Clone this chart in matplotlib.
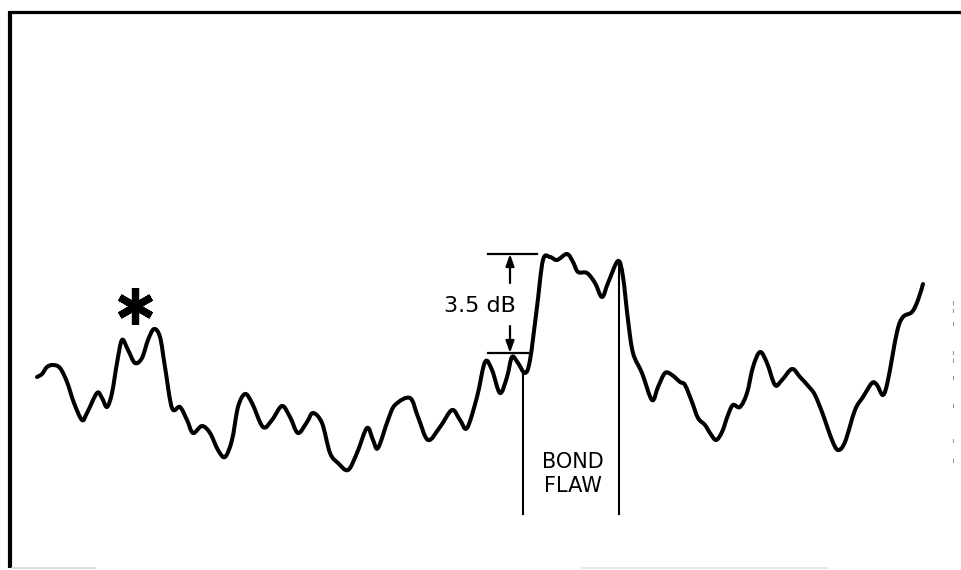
import numpy as np
import matplotlib.pyplot as plt
from matplotlib.path import Path
from matplotlib.patches import PathPatch
from matplotlib.markers import MarkerStyle

# Scan trace: position along the scan and recorder level (pen position, top = 0)
scan_pos = [37, 42, 47, 53, 60, 67, 74, 82, 87, 97, 102, 107, 112, 117, 122, 128,
            135, 142, 148, 154, 160, 165, 172, 180, 187, 193, 202, 210, 218, 225,
            232, 238, 245, 252, 263, 272, 282, 290, 298, 307, 313, 322, 330, 338,
            348, 357, 367, 373, 378, 388, 395, 410, 418, 428, 440, 452, 460, 467,
            477, 485, 492, 500, 507, 512, 518, 525, 530, 537, 543, 550, 557, 567,
            573, 578, 587, 595, 602, 608, 618, 623, 628, 633, 642, 652, 658, 665,
            672, 680, 685, 692, 698, 705, 710, 716, 722, 728, 733, 740, 747, 753,
            760, 767, 775, 782, 792, 800, 810, 815, 822, 832, 838, 845, 855, 863,
            872, 877, 883, 888, 897, 903, 912, 918, 923]
level = [377, 374, 367, 365, 368, 382, 403, 420, 413, 393, 398, 407, 393, 363, 340, 350,
         363, 358, 340, 329, 337, 367, 408, 407, 420, 433, 426, 433, 450, 457,
         440, 407, 394, 403, 427, 420, 406, 417, 433, 422, 413, 423, 453, 463,
         470, 453, 428, 440, 448, 420, 405, 398, 417, 440, 427, 410, 420, 428,
         397, 362, 370, 393, 377, 357, 363, 373, 360, 307, 260, 257, 260, 254,
         262, 272, 273, 283, 297, 283, 261, 277, 320, 353, 373, 400, 387, 373,
         375, 382, 385, 402, 418, 425, 433, 440, 432, 415, 405, 407, 393, 367,
         352, 363, 385, 380, 369, 377, 388, 395, 412, 440, 450, 442, 410, 397,
         383, 385, 395, 380, 332, 317, 312, 300, 284]

# Flaw indication
flaw_start, flaw_end = 523, 619
ref_level, peak_level = 353, 254
gain_label = "3.5 dB"
flaw_label = "BOND\nFLAW"
marker_pos = (135, 306)


def smooth_path(xs, ys):
    # cubic Bezier through every point (Catmull-Rom tangents), like a pen trace
    p = np.column_stack([xs, ys]).astype(float)
    ext = np.vstack([p[0], p, p[-1]])
    verts = [p[0]]
    codes = [Path.MOVETO]
    for i in range(len(p) - 1):
        a, b, c, d = ext[i], ext[i + 1], ext[i + 2], ext[i + 3]
        verts += [b + (c - a) / 6, c - (d - b) / 6, c]
        codes += [Path.CURVE4] * 3
    return Path(verts, codes)


fig = plt.figure(figsize=(9.61, 5.70), dpi=100)
ax = fig.add_axes([0, 0, 1, 1])
ax.set_xlim(0, 961)
ax.set_ylim(570, 0)
ax.axis("off")

# chart frame: heavy left and top edges, faint bottom
ax.plot([10, 10], [11, 568], color="black", lw=3.0, solid_capstyle="butt")
ax.plot([8, 961], [12, 12], color="black", lw=2.3, solid_capstyle="butt")
ax.plot([12, 95], [568, 568], color="#d8d8d8", lw=1.2)
ax.plot([582, 828], [568, 568], color="#e4e4e4", lw=1.2)
for yy in [302, 310, 323, 352, 360, 377, 405, 440, 460]:
    ax.plot([953, 953], [yy - 1.5, yy + 1.5], color="#9a9a9a", lw=0.8)

# recorder trace
ax.add_patch(PathPatch(smooth_path(scan_pos, level), facecolor="none",
                       edgecolor="black", lw=2.9, joinstyle="round", capstyle="round"))

# asterisk over the spurious peak
star = MarkerStyle((6, 2, 0), capstyle="round")
ax.plot(*marker_pos, marker=star, markersize=26, markeredgewidth=5.2,
        color="black")

# gain difference bracket
ax.plot([488, 537], [peak_level, peak_level], color="black", lw=1.6)
ax.plot([488, 528], [ref_level, ref_level], color="black", lw=1.6)
arrow = dict(arrowstyle="-|>,head_length=0.7,head_width=0.25", color="black",
             lw=1.6, shrinkA=0, shrinkB=0)
ax.annotate("", xy=(510, peak_level), xytext=(510, 283), arrowprops=arrow)
ax.annotate("", xy=(510, ref_level), xytext=(510, 326), arrowprops=arrow)
ax.text(480, 306, gain_label, ha="center", va="center", fontsize=16,
        family="DejaVu Sans")

# flaw gate
ax.plot([flaw_start, flaw_start], [373, 514], color="black", lw=1.5)
ax.plot([flaw_end, flaw_end], [262, 514], color="black", lw=1.5)
ax.text((flaw_start + flaw_end) / 2 + 2, 474, flaw_label, ha="center", va="center",
        fontsize=15, family="DejaVu Sans", linespacing=1.25)

fig.savefig("out.png", dpi=100)
